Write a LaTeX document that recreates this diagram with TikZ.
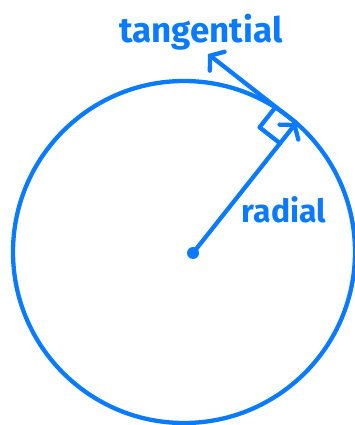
\documentclass[tikz,border=0pt]{standalone}
\usepackage{fontspec}
\setmainfont{Fira Sans}
\usetikzlibrary{arrows.meta,positioning,calc}
\definecolor{Sky}{HTML}{0A7AFF}
\tikzset{
    % one marker pen for every stroke
    pen/.style={
        draw=Sky,
        line width=4.3pt,
        line cap=round,
        line join=round
    },
    vecarrow/.style={
        pen,
        -{Straight Barb[length=9pt,width=24pt,line cap=round]}
    },
    ring/.style={
        circle,
        pen,
        inner sep=0pt,
        outer sep=0pt,
        minimum size=342pt
    },
    dot/.style={
        circle,
        fill=Sky,
        inner sep=0pt,
        minimum size=12pt
    },
    tag/.style={
        text=Sky,
        inner sep=0pt,
        font=\fontsize{32}{36}\selectfont\bfseries
    }
}
\begin{document}
\begin{tikzpicture}[x=1pt, y=-1pt]
    \useasboundingbox (0,0) rectangle (355,425);
    \node[ring] (wheel) at (184,252) {};
    \node[dot] (centre) at (193,253) {};
    \coordinate (rim) at (wheel.49);
    \coordinate (tang) at (208,54);
    \draw[vecarrow] (centre.center) -- (rim);
    \draw[vecarrow] (rim) -- (tang);
    % right angle mark
    \coordinate (sqa) at ($(rim)!26pt!(centre.center)$);
    \coordinate (sqc) at ($(rim)!26pt!(tang)$);
    \draw[pen] (sqa) -- ($(sqa)+(sqc)-(rim)$) -- (sqc);
    \node[tag, anchor=base, font=\fontsize{35}{40}\selectfont\bfseries] (tname) at (201,43) {tangential};
    \node[tag, anchor=base] (rname) at (284,222) {radial};
\end{tikzpicture}
\end{document}
